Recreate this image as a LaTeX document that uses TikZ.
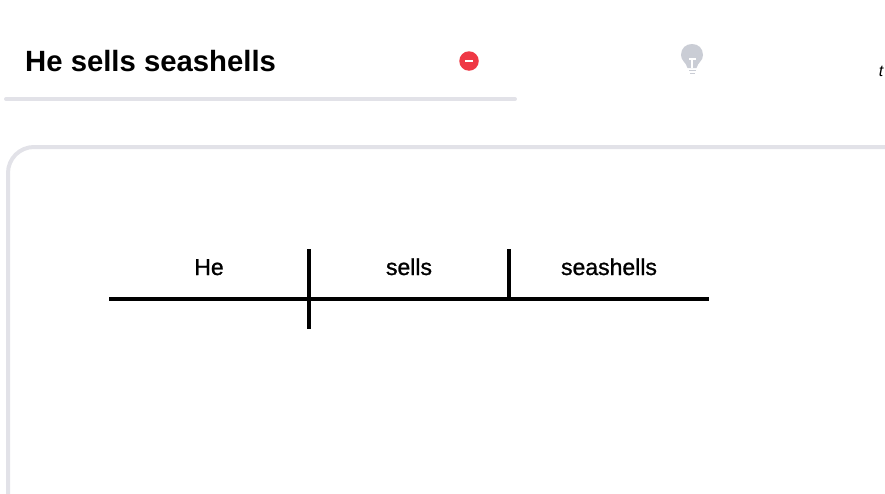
\documentclass[tikz,border=0pt]{standalone}
\usepackage{fontspec}
\setmainfont{Liberation Sans}
\newfontfamily\medfont[FakeBold=1]{Liberation Sans}
\definecolor{rulegray}{HTML}{E2E2E8}
\definecolor{bulbgray}{HTML}{CACDD5}
\definecolor{minusred}{HTML}{EF3845}

\begin{document}
\begin{tikzpicture}[x=1pt, y=-1pt]

\tikzstyle{every node} = [inner sep=0pt]
\tikzstyle{word} = [anchor=base, font=\medfont\fontsize{23}{23}\selectfont]
\tikzstyle{rule} = [draw=rulegray, line width=4pt, line cap=round]
\tikzstyle{stroke} = [draw=black, line width=4pt]

\useasboundingbox (0,0) rectangle (885,493);

% header
\node[anchor=base west, font=\bfseries\fontsize{29.3}{29.3}\selectfont] (title) at (25,71.5) {He sells seashells};
\draw[rule] (6,99) -- (515,99);

\node[circle, fill=minusred, minimum size=19.5pt] (remove) at (469,61) {};
\draw[white, line width=2pt] (465,61) -- (473,61);

% hint bulb
\fill[bulbgray] (687.5,68) .. controls (686,62) and (681,61) .. (681,55) .. controls (681,48) and (686,44) .. (692,44) .. controls (698,44) and (703,48) .. (703,55) .. controls (703,61) and (698,62) .. (696.5,68) -- cycle;
\fill[white] (688.5,58) rectangle (695.5,60);
\fill[white] (690.7,59) rectangle (693.3,68);
\fill[bulbgray] (688.5,69.5) rectangle (695.5,71);
\fill[bulbgray] (689.5,72.5) rectangle (694.5,74);

\node[font=\itshape\fontsize{16}{16}\selectfont] (tvar) at (881,71.5) {t};

% card
\draw[draw=rulegray, line width=4pt, rounded corners=26pt] (8,497) -- (8,147) -- (889,147);

% sentence line
\coordinate (lineL) at (109,298.5);
\coordinate (lineR) at (709,298.5);
\coordinate (subT) at (309,249);
\coordinate (subB) at (309,328.5);
\coordinate (verbT) at (509,249);
\coordinate (verbB) at (509,298.5);

\node[word] (he) at (209,275) {He};
\node[word] (sells) at (409,275) {sells};
\node[word] (shells) at (609,275) {seashells};

\draw[stroke] (lineL) -- (lineR);
\draw[stroke] (subT) -- (subB);
\draw[stroke] (verbT) -- (verbB);

\end{tikzpicture}
\end{document}
